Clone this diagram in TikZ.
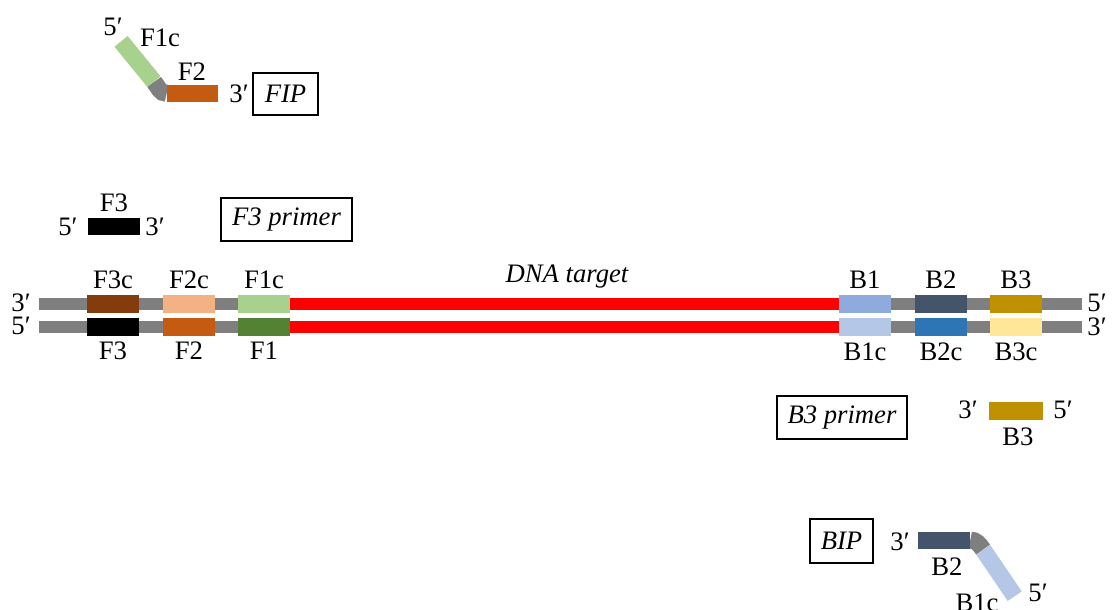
\documentclass[tikz,border=0pt]{standalone}
\usepackage{fontspec}
\setmainfont{Liberation Serif}
\usetikzlibrary{backgrounds}
\definecolor{strandgray}{HTML}{7F7F7F}
\definecolor{dnared}{HTML}{FF0000}
\definecolor{cFthreec}{HTML}{843C0C}
\definecolor{cFtwoc}{HTML}{F4B183}
\definecolor{cFonec}{HTML}{A9D18E}
\definecolor{cFthree}{HTML}{000000}
\definecolor{cFtwo}{HTML}{C55A11}
\definecolor{cFone}{HTML}{548235}
\definecolor{cBone}{HTML}{8FAADC}
\definecolor{cBtwo}{HTML}{44546A}
\definecolor{cBthree}{HTML}{BF9000}
\definecolor{cBonec}{HTML}{B4C7E7}
\definecolor{cBtwoc}{HTML}{2E75B6}
\definecolor{cBthreec}{HTML}{FFE699}
\tikzset{
  seg/.style={rectangle, draw=none, minimum width=39pt, minimum height=13pt, inner sep=0pt},
  lbl/.style={font=\fontsize{20}{24}\selectfont, inner sep=0pt},
  boxlbl/.style={font=\fontsize{20}{24}\selectfont\itshape, draw=black, line width=0.8pt, inner sep=0pt},
  strand/.style={strandgray, line width=9.3pt},
  target/.style={dnared, line width=9.3pt},
  hinge/.style={strandgray, line width=12.75pt}
}
\begin{document}
\begin{tikzpicture}[x=0.75pt,y=-0.75pt]
\useasboundingbox (0,0) rectangle (1115,610);

% ---------- FIP ----------
\node[lbl] (fip5) at (113,27) {5′};
\node[lbl] (fipF1cl) at (160,38) {F1c};
\node[seg, fill=cFonec, minimum width=39pt, minimum height=12.75pt, rotate=-50.8] (fipF1c) at (137.5,61.5) {};
\node[lbl] (fipF2l) at (192,72) {F2};
\node[seg, fill=cFtwo, minimum width=38.25pt, minimum height=12.75pt] (fipF2) at (192.5,93.3) {};
\node[lbl] (fip3) at (239,94) {3′};
\node[boxlbl, minimum width=48.75pt, minimum height=31.5pt] (fipbox) at (285.5,94) {FIP};
\begin{scope}[on background layer]
\draw[hinge] (fipF1c.east) .. controls +(50.8:7) and +(-7,0) .. (fipF2.west);
\end{scope}

% ---------- F3 primer ----------
\node[lbl] (f3pl) at (114,203) {F3};
\node[seg, fill=cFthree, minimum width=39pt, minimum height=12.75pt] (f3p) at (113.5,226.5) {};
\node[lbl] (f3p5) at (68,227) {5′};
\node[lbl] (f3p3) at (155,227) {3′};
\node[boxlbl, minimum width=98.25pt, minimum height=32.25pt] (f3box) at (286.5,219.5) {F3 primer};

% ---------- double strand ----------
\coordinate (lt) at (39,304);
\coordinate (rt) at (1082,304);
\coordinate (lb) at (39,327);
\coordinate (rb) at (1082,327);
\node[lbl] (l3) at (21,303) {3′};
\node[lbl] (l5) at (21,326) {5′};
\node[lbl] (r5) at (1097,303) {5′};
\node[lbl] (r3) at (1097,327) {3′};

\node[seg, fill=cFthreec] (F3c) at (113,304) {};
\node[seg, fill=cFtwoc]  (F2c) at (189,304) {};
\node[seg, fill=cFonec]  (F1c) at (264,304) {};
\node[seg, fill=cBone]   (B1)  at (865,304) {};
\node[seg, fill=cBtwo]   (B2)  at (941,304) {};
\node[seg, fill=cBthree] (B3)  at (1016,304) {};

\node[seg, fill=cFthree] (F3) at (113,327) {};
\node[seg, fill=cFtwo]   (F2) at (189,327) {};
\node[seg, fill=cFone]   (F1) at (264,327) {};
\node[seg, fill=cBonec]  (B1c) at (865,327) {};
\node[seg, fill=cBtwoc]  (B2c) at (941,327) {};
\node[seg, fill=cBthreec] (B3c) at (1016,327) {};

\begin{scope}[on background layer]
\draw[strand] (lt) -- (rt);
\draw[strand] (lb) -- (rb);
\draw[target] (F1c.east) -- (B1.west);
\draw[target] (F1.east) -- (B1c.west);
\end{scope}

\node[lbl] (F3cl) at (113,280) {F3c};
\node[lbl] (F2cl) at (189,280) {F2c};
\node[lbl] (F1cl) at (264,280) {F1c};
\node[lbl] (B1l) at (865,280) {B1};
\node[lbl] (B2l) at (941,280) {B2};
\node[lbl] (B3l) at (1016,280) {B3};
\node[lbl] (F3l) at (113,351) {F3};
\node[lbl] (F2l) at (189,351) {F2};
\node[lbl] (F1l) at (264,351) {F1};
\node[lbl] (B1cl) at (865,352) {B1c};
\node[lbl] (B2cl) at (941,352) {B2c};
\node[lbl] (B3cl) at (1016,352) {B3c};
\node[lbl, font=\fontsize{20}{24}\selectfont\itshape] (dna) at (567,277) {DNA target};

% ---------- B3 primer ----------
\node[boxlbl, minimum width=97.5pt, minimum height=32.25pt] (b3box) at (842,417.5) {B3 primer};
\node[seg, fill=cBthree, minimum width=40.5pt, minimum height=13.5pt] (b3p) at (1016,411) {};
\node[lbl] (b3p3) at (968,410) {3′};
\node[lbl] (b3p5) at (1063,410) {5′};
\node[lbl] (b3pl) at (1018,437) {B3};

% ---------- BIP ----------
\node[boxlbl, minimum width=47.25pt, minimum height=33pt] (bipbox) at (841.5,541) {BIP};
\node[lbl] (bip3) at (900,542) {3′};
\node[seg, fill=cBtwo, minimum width=39pt, minimum height=12.75pt] (bipB2) at (944,540) {};
\node[lbl] (bipB2l) at (947,567) {B2};
\node[seg, fill=cBonec, minimum width=42pt, minimum height=12.75pt, rotate=-55.8] (bipB1c) at (999,573) {};
\node[lbl] (bipB1cl) at (977,603) {B1c};
\node[lbl] (bip5) at (1038,593) {5′};
\begin{scope}[on background layer]
\draw[hinge] (bipB2.east) .. controls +(6,0) and +(-124.2:6) .. (bipB1c.west);
\end{scope}
\end{tikzpicture}
\end{document}
